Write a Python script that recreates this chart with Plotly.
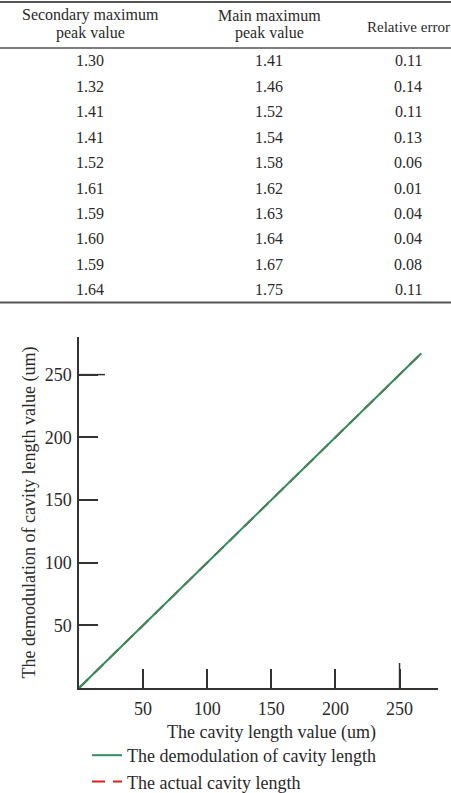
import plotly.graph_objects as go

# ---- table data ----
table_headers = ["Secondary maximum<br>peak value", "Main maximum<br>peak value", "Relative error"]
secondary_peak = ["1.30", "1.32", "1.41", "1.41", "1.52", "1.61", "1.59", "1.60", "1.59", "1.64"]
main_peak = ["1.41", "1.46", "1.52", "1.54", "1.58", "1.62", "1.63", "1.64", "1.67", "1.75"]
relative_error = ["0.11", "0.14", "0.11", "0.13", "0.06", "0.01", "0.04", "0.04", "0.08", "0.11"]

# ---- chart data ----
actual_length = [0, 50, 100, 150, 200, 250, 267]
demod_length = [0, 50, 100, 150, 200, 250, 267]
tick_vals = [50, 100, 150, 200, 250]
x_title = "The cavity length value (um)"
y_title = "The demodulation of cavity length value (um)"

W, H = 451, 793
L, R, T, B = 79, 438, 337, 688  # plot area in pixels

def py(p):
    return (B - p) / (B - T)

def px(p):
    return (p - L) / (R - L)

FONT = "Liberation Serif"
TXT = "#2a2a2a"
AX = "#333333"

fig = go.Figure()
fig.add_trace(go.Scatter(x=actual_length, y=actual_length, mode="lines",
                         name="The actual cavity length",
                         line=dict(color="#e0201c", width=2, dash="13px,8px"),
                         legendrank=2))
fig.add_trace(go.Scatter(x=actual_length, y=demod_length, mode="lines",
                         name="The demodulation of cavity length",
                         line=dict(color="#2f8f5f", width=2),
                         legendrank=1))

annotations = []
col_x = [90, 269, 408]
# header
for cx, h in zip(col_x, table_headers):
    lines = h.split("<br>")
    if len(lines) == 1:
        ys = [27]
        fs = 15
    else:
        ys = [15, 33]
        fs = 16
    for t, yy in zip(lines, ys):
        annotations.append(dict(text=t, x=px(cx), y=py(yy), xref="paper", yref="paper",
                                showarrow=False, xanchor="center", yanchor="middle",
                                font=dict(family=FONT, size=fs, color=TXT)))
row_y0, row_dy = 61, 25.4
for i, (a, b, c) in enumerate(zip(secondary_peak, main_peak, relative_error)):
    yy = py(row_y0 + i * row_dy)
    for cx, t in zip(col_x, (a, b, c)):
        annotations.append(dict(text=t, x=px(cx), y=yy, xref="paper", yref="paper",
                                showarrow=False, xanchor="center", yanchor="middle",
                                font=dict(family=FONT, size=16, color=TXT)))

# x axis title (offset to the right as in the reference)
annotations.append(dict(text=x_title, x=px(271), y=py(732), xref="paper", yref="paper",
                        showarrow=False, xanchor="center", yanchor="middle",
                        font=dict(family=FONT, size=18, color=TXT)))

shapes = []
for yline, w in [(2, 2), (48, 1.5), (302.5, 2)]:
    shapes.append(dict(type="line", xref="paper", yref="paper",
                       x0=px(0), x1=px(W), y0=py(yline), y1=py(yline),
                       line=dict(color="#555555", width=w)))
# longer 250 ticks
shapes.append(dict(type="line", xref="paper", yref="y", x0=0, x1=26 / (R - L),
                   y0=250, y1=250, line=dict(color=AX, width=1.5)))
shapes.append(dict(type="line", xref="x", yref="paper", x0=250, x1=250,
                   y0=0, y1=25 / (B - T), line=dict(color=AX, width=1.5)))

axis_common = dict(range=[0, 280], showgrid=False, zeroline=False, showline=True,
                   linecolor=AX, linewidth=1.5, ticks="inside", ticklen=19,
                   tickwidth=1.5, tickcolor=AX, tickvals=tick_vals,
                   tickfont=dict(family=FONT, size=18, color=TXT))

fig.update_layout(
    width=W, height=H,
    margin=dict(l=L, r=W - R, t=T, b=H - B, autoexpand=False),
    paper_bgcolor="white", plot_bgcolor="white",
    xaxis=dict(**axis_common, ticklabelstandoff=4),
    yaxis=dict(**axis_common, ticklabelstandoff=2,
               title=dict(text=y_title, standoff=4,
                          font=dict(family=FONT, size=18, color=TXT))),
    showlegend=True,
    legend=dict(x=px(87), y=py(737), xanchor="left", yanchor="top",
                font=dict(family=FONT, size=18, color=TXT),
                bgcolor="rgba(0,0,0,0)", tracegroupgap=0, itemwidth=30),
    annotations=annotations,
    shapes=shapes,
)

fig.write_html("out.html")
